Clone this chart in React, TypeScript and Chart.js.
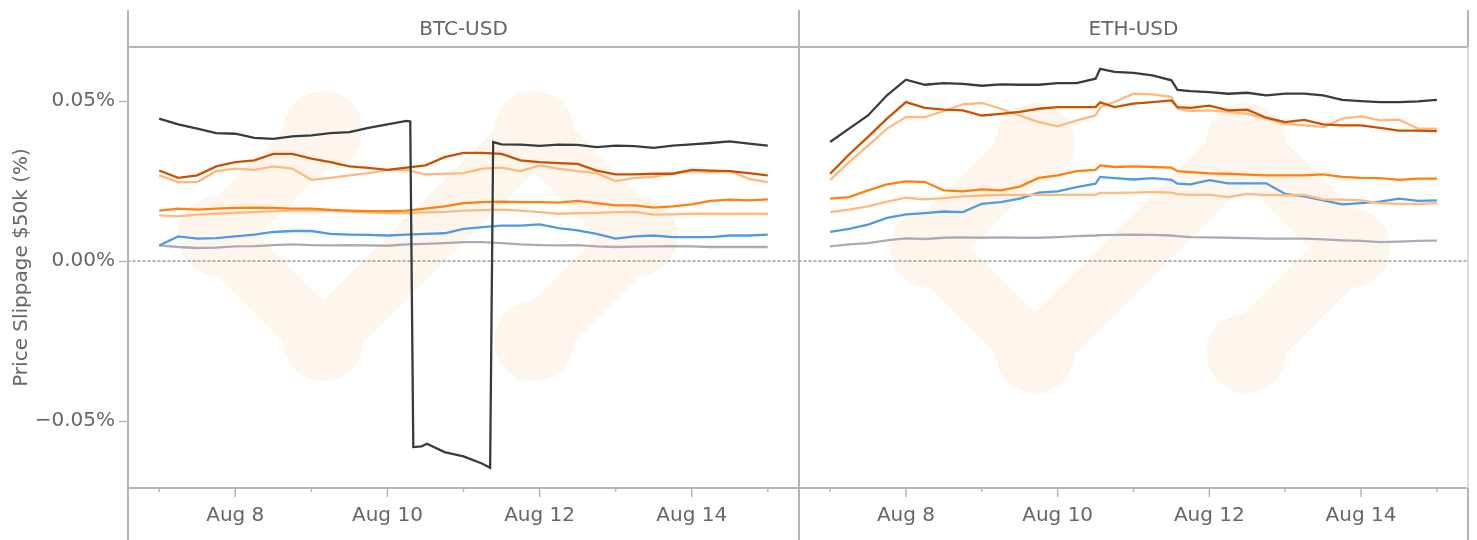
import React, { useEffect, useRef } from "react";
import { Chart, registerables } from "chart.js";

Chart.register(...registerables);

// ---------- data (values in %) ----------
const PANELS = ["BTC-USD", "ETH-USD"];
const SERIES_NAMES = ["Venue A", "Venue B", "Venue C", "Venue D", "Venue E", "Venue F", "Venue G"];

const BTC_DAYS = [7, 7.25, 7.5, 7.75, 8, 8.25, 8.5, 8.75, 9, 9.25, 9.5, 9.75, 10, 10.25, 10.5, 10.75, 11, 11.25, 11.5, 11.75, 12, 12.25, 12.5, 12.75, 13, 13.25, 13.5, 13.75, 14, 14.25, 14.5, 14.75, 15];

const BTC_DARK_DAYS = [7, 7.25, 7.5, 7.75, 8, 8.25, 8.5, 8.75, 9, 9.25, 9.5, 9.75, 10, 10.25, 10.3, 10.34, 10.45, 10.52, 10.75, 11, 11.25, 11.35, 11.39, 11.5, 11.75, 12, 12.25, 12.5, 12.75, 13, 13.25, 13.5, 13.75, 14, 14.25, 14.5, 14.75, 15];
const BTC_DARK = [0.0445, 0.0427, 0.0414, 0.04, 0.0398, 0.0385, 0.0382, 0.039, 0.0393, 0.04, 0.0403, 0.0416, 0.0427, 0.0438, 0.0436, -0.0581, -0.0579, -0.0571, -0.0597, -0.061, -0.0633, -0.0646, 0.0372, 0.0365, 0.0364, 0.036, 0.0364, 0.0363, 0.0356, 0.0361, 0.0359, 0.0354, 0.0361, 0.0365, 0.0369, 0.0374, 0.0367, 0.0361];
const BTC_RUST = [0.0283, 0.026, 0.0268, 0.0296, 0.0309, 0.0315, 0.0335, 0.0335, 0.032, 0.0309, 0.0296, 0.0291, 0.0285, 0.0292, 0.0299, 0.0325, 0.0338, 0.0338, 0.0335, 0.0315, 0.0309, 0.0306, 0.0304, 0.0283, 0.0271, 0.0271, 0.0273, 0.0273, 0.0285, 0.0283, 0.0281, 0.0275, 0.0268];
const BTC_PEACH_HI = [0.0268, 0.0247, 0.0247, 0.0281, 0.0289, 0.0285, 0.0296, 0.0289, 0.0254, 0.026, 0.0268, 0.0275, 0.0285, 0.0285, 0.0271, 0.0273, 0.0275, 0.0289, 0.0292, 0.0281, 0.0299, 0.0289, 0.0281, 0.0275, 0.025, 0.026, 0.0263, 0.0273, 0.0281, 0.0278, 0.0281, 0.0257, 0.0247];
const BTC_ORANGE = [0.0158, 0.0164, 0.0161, 0.0164, 0.0166, 0.0167, 0.0166, 0.0164, 0.0164, 0.016, 0.0158, 0.0156, 0.0156, 0.0158, 0.0164, 0.0171, 0.0181, 0.0184, 0.0186, 0.0184, 0.0184, 0.0183, 0.0188, 0.0181, 0.0174, 0.0174, 0.0167, 0.0171, 0.0177, 0.0188, 0.0192, 0.019, 0.0193];
const BTC_PEACH_LO = [0.0143, 0.014, 0.0145, 0.0148, 0.0151, 0.0153, 0.0156, 0.0158, 0.0158, 0.0158, 0.0155, 0.0152, 0.015, 0.015, 0.0152, 0.0154, 0.0158, 0.0159, 0.0161, 0.0158, 0.0153, 0.0148, 0.015, 0.0151, 0.0153, 0.0154, 0.0145, 0.0146, 0.0148, 0.0148, 0.0148, 0.0148, 0.0148];
const BTC_BLUE = [0.0049, 0.0077, 0.007, 0.0072, 0.0077, 0.0083, 0.0091, 0.0094, 0.0094, 0.0085, 0.0083, 0.0082, 0.008, 0.0083, 0.0085, 0.0087, 0.0101, 0.0106, 0.0111, 0.0111, 0.0115, 0.0103, 0.0096, 0.0085, 0.007, 0.0077, 0.008, 0.0075, 0.0075, 0.0075, 0.008, 0.008, 0.0083];
const BTC_GREY = [0.0049, 0.0044, 0.0041, 0.0042, 0.0046, 0.0047, 0.005, 0.0052, 0.005, 0.0049, 0.005, 0.0049, 0.0048, 0.0052, 0.0054, 0.0056, 0.0059, 0.0059, 0.0056, 0.0052, 0.005, 0.0049, 0.005, 0.0046, 0.0044, 0.0045, 0.0046, 0.0047, 0.0046, 0.0044, 0.0044, 0.0044, 0.0044];

const ETH_DAYS = [7, 7.25, 7.5, 7.75, 8, 8.25, 8.5, 8.75, 9, 9.25, 9.5, 9.75, 10, 10.25, 10.5, 10.56, 10.75, 11, 11.25, 11.5, 11.58, 11.75, 12, 12.25, 12.5, 12.75, 13, 13.25, 13.5, 13.75, 14, 14.25, 14.5, 14.75, 15];
const ETH_DARK = [0.0372, 0.0414, 0.0455, 0.0518, 0.0567, 0.0551, 0.0556, 0.0554, 0.0548, 0.0552, 0.0551, 0.0551, 0.0556, 0.0556, 0.057, 0.0601, 0.0591, 0.0588, 0.058, 0.0565, 0.0535, 0.0531, 0.0528, 0.0523, 0.0526, 0.0518, 0.0523, 0.0523, 0.0518, 0.0504, 0.05, 0.0497, 0.0497, 0.0499, 0.0504];
const ETH_RUST = [0.0273, 0.0333, 0.0388, 0.0445, 0.0497, 0.0479, 0.0473, 0.0471, 0.0455, 0.046, 0.0466, 0.0476, 0.0481, 0.0481, 0.0481, 0.0496, 0.0481, 0.0492, 0.0497, 0.0502, 0.0481, 0.0479, 0.0486, 0.0471, 0.0473, 0.0448, 0.0434, 0.0441, 0.0427, 0.0424, 0.0424, 0.0416, 0.0408, 0.0408, 0.0406];
const ETH_PEACH_HI = [0.0254, 0.0309, 0.0361, 0.0414, 0.045, 0.045, 0.0469, 0.049, 0.0494, 0.0476, 0.0455, 0.0434, 0.0421, 0.044, 0.0455, 0.0481, 0.0497, 0.0523, 0.0521, 0.0513, 0.0476, 0.0469, 0.0471, 0.0466, 0.046, 0.0445, 0.0429, 0.0424, 0.0419, 0.0445, 0.0452, 0.044, 0.0442, 0.0414, 0.0414];
const ETH_ORANGE = [0.0195, 0.02, 0.0221, 0.024, 0.0249, 0.0247, 0.0221, 0.0218, 0.0224, 0.0221, 0.0233, 0.026, 0.0268, 0.0281, 0.0285, 0.0299, 0.0294, 0.0296, 0.0294, 0.0292, 0.0281, 0.0278, 0.0274, 0.0273, 0.027, 0.0268, 0.0268, 0.0268, 0.0271, 0.0263, 0.026, 0.0259, 0.0254, 0.0258, 0.0258];
const ETH_PEACH_LO = [0.0153, 0.0161, 0.0171, 0.0186, 0.0198, 0.0193, 0.0197, 0.0202, 0.0205, 0.0207, 0.0207, 0.0207, 0.0207, 0.0207, 0.0207, 0.0213, 0.0213, 0.0214, 0.0216, 0.0214, 0.0209, 0.0207, 0.0207, 0.02, 0.021, 0.0206, 0.0206, 0.0207, 0.0193, 0.0192, 0.019, 0.0181, 0.0179, 0.0179, 0.0181];
const ETH_BLUE = [0.0091, 0.0101, 0.0114, 0.0135, 0.0146, 0.015, 0.0155, 0.0153, 0.0179, 0.0184, 0.0195, 0.0214, 0.0218, 0.0231, 0.0242, 0.0263, 0.0259, 0.0255, 0.0259, 0.0254, 0.0242, 0.024, 0.0253, 0.0243, 0.0243, 0.0243, 0.021, 0.0202, 0.019, 0.0177, 0.0181, 0.0186, 0.0195, 0.0188, 0.019];
const ETH_GREY = [0.0046, 0.0052, 0.0056, 0.0065, 0.0071, 0.0069, 0.0073, 0.0074, 0.0073, 0.0074, 0.0073, 0.0073, 0.0075, 0.0078, 0.008, 0.0081, 0.0082, 0.0083, 0.0082, 0.008, 0.0078, 0.0075, 0.0074, 0.0073, 0.0072, 0.007, 0.007, 0.007, 0.0068, 0.0065, 0.0063, 0.0059, 0.0061, 0.0063, 0.0064];

const Y_TICKS = [-0.05, 0, 0.05];
const X_TICK_DAYS = [7, 8, 9, 10, 11, 12, 13, 14, 15];
const Y_TITLE = "Price Slippage $50k (%)";

// ---------- style ----------
const FONT_FAMILY = '"DejaVu Sans", Verdana, sans-serif';
const FONT_SIZE = 20;
const TEXT = "#666666";
const FRAME = "#b5b5b5";
const FRAME_LIGHT = "#dcdcdc";
const WATERMARK = "#fef6ec";
const COLORS = ["#343d40", "#c85200", "#ffb97f", "#ff800e", "#ffb97f", "#4d9be3", "#a9acb8"];

const Y_MIN = -0.0709;
const Y_MAX = 0.0669;
const X_MIN = 6.59;
const X_MAX = 15.41;

// decorative watermark ("</>" blob logo) node offsets, relative to its left node
const LOGO_NODES: [number, number][] = [
  [105, -105],
  [0, 0],
  [105, 105],
  [316, -105],
  [420, 0],
  [316, 105],
];

function series(days: number[], vals: number[]) {
  return days.map((d, i) => ({ x: d, y: vals[i] }));
}

function line(ctx: CanvasRenderingContext2D, x1: number, y1: number, x2: number, y2: number, color: string, w: number) {
  ctx.save();
  ctx.strokeStyle = color;
  ctx.lineWidth = w;
  ctx.beginPath();
  ctx.moveTo(x1, y1);
  ctx.lineTo(x2, y2);
  ctx.stroke();
  ctx.restore();
}

function makePlugin(title: string, isLeft: boolean, logo: [number, number]) {
  return {
    id: "panelDecor",
    beforeDatasetsDraw(chart: any) {
      const { ctx, chartArea: a, scales } = chart;
      ctx.save();
      ctx.beginPath();
      ctx.rect(a.left, a.top, a.right - a.left, a.bottom - a.top);
      ctx.clip();
      // watermark
      const ox = a.left + logo[0];
      const oy = a.top + logo[1];
      const P = LOGO_NODES.map(([x, y]) => [ox + x, oy + y]);
      ctx.strokeStyle = WATERMARK;
      ctx.fillStyle = WATERMARK;
      ctx.lineWidth = 58;
      ctx.lineCap = "round";
      ctx.lineJoin = "round";
      ctx.beginPath();
      ctx.moveTo(P[0][0], P[0][1]);
      ctx.lineTo(P[1][0], P[1][1]);
      ctx.lineTo(P[2][0], P[2][1]);
      ctx.stroke();
      ctx.beginPath();
      ctx.moveTo(P[2][0], P[2][1]);
      ctx.lineTo(P[3][0], P[3][1]);
      ctx.stroke();
      ctx.beginPath();
      ctx.moveTo(P[3][0], P[3][1]);
      ctx.lineTo(P[4][0], P[4][1]);
      ctx.lineTo(P[5][0], P[5][1]);
      ctx.stroke();
      for (const p of P) {
        ctx.beginPath();
        ctx.arc(p[0], p[1], 40, 0, Math.PI * 2);
        ctx.fill();
      }
      // zero reference line
      const y0 = scales.y.getPixelForValue(0);
      ctx.setLineDash([2, 3]);
      ctx.strokeStyle = "#9c9c9c";
      ctx.lineWidth = 1.5;
      ctx.beginPath();
      ctx.moveTo(a.left, y0);
      ctx.lineTo(a.right, y0);
      ctx.stroke();
      ctx.restore();
    },
    afterDraw(chart: any) {
      const { ctx, chartArea: a, scales } = chart;
      const H = chart.height;
      line(ctx, a.left, a.top, a.right, a.top, FRAME, 2);
      line(ctx, a.left, a.bottom, a.right, a.bottom, FRAME, 2);
      if (isLeft) {
        line(ctx, a.left, 10, a.left, H, FRAME, 2);
        line(ctx, a.right, 10, a.right, H, FRAME, 2);
      } else {
        line(ctx, a.right, 10, a.right, a.top, FRAME, 2);
        line(ctx, a.right, a.top, a.right, a.bottom, FRAME_LIGHT, 2);
        line(ctx, a.right, a.bottom, a.right, H, FRAME, 2);
      }
      for (const d of X_TICK_DAYS) {
        const px = scales.x.getPixelForValue(d);
        const len = d % 2 === 0 ? 9 : 4;
        line(ctx, px, a.bottom, px, a.bottom + len, FRAME, 1.5);
      }
      ctx.save();
      ctx.fillStyle = TEXT;
      ctx.font = `${FONT_SIZE}px ${FONT_FAMILY}`;
      ctx.textAlign = "center";
      ctx.textBaseline = "middle";
      ctx.fillText(title, (a.left + a.right) / 2, 30);
      ctx.restore();
    },
  };
}

function makeConfig(panelIdx: number): any {
  const isLeft = panelIdx === 0;
  const valueSets = isLeft
    ? [
        series(BTC_DARK_DAYS, BTC_DARK),
        series(BTC_DAYS, BTC_RUST),
        series(BTC_DAYS, BTC_PEACH_HI),
        series(BTC_DAYS, BTC_ORANGE),
        series(BTC_DAYS, BTC_PEACH_LO),
        series(BTC_DAYS, BTC_BLUE),
        series(BTC_DAYS, BTC_GREY),
      ]
    : [
        series(ETH_DAYS, ETH_DARK),
        series(ETH_DAYS, ETH_RUST),
        series(ETH_DAYS, ETH_PEACH_HI),
        series(ETH_DAYS, ETH_ORANGE),
        series(ETH_DAYS, ETH_PEACH_LO),
        series(ETH_DAYS, ETH_BLUE),
        series(ETH_DAYS, ETH_GREY),
      ];
  const font = { family: FONT_FAMILY, size: FONT_SIZE };
  return {
    type: "line",
    data: {
      datasets: valueSets.map((data, i) => ({
        label: SERIES_NAMES[i],
        data,
        borderColor: COLORS[i],
        backgroundColor: COLORS[i],
        borderWidth: 2.3,
        pointRadius: 0,
        tension: 0,
        fill: false,
      })),
    },
    options: {
      responsive: false,
      animation: false,
      devicePixelRatio: 1,
      layout: { padding: isLeft ? { left: 0, right: 2, top: 47, bottom: 0 } : { left: 0, right: 9, top: 47, bottom: 0 } },
      plugins: { legend: { display: false }, tooltip: { enabled: false } },
      scales: {
        x: {
          type: "linear",
          min: X_MIN,
          max: X_MAX,
          afterBuildTicks: (s: any) => {
            s.ticks = X_TICK_DAYS.map((v) => ({ value: v }));
          },
          afterFit: (s: any) => {
            s.height = 52;
          },
          ticks: {
            autoSkip: false,
            maxRotation: 0,
            padding: 7,
            color: TEXT,
            font,
            callback: (v: number) => (v % 2 === 0 ? "Aug " + v : ""),
          },
          grid: { display: true, drawOnChartArea: false, drawTicks: true, tickLength: 9, color: "rgba(0,0,0,0)", tickColor: "rgba(0,0,0,0)" },
          border: { display: false },
        },
        y: {
          display: isLeft,
          min: Y_MIN,
          max: Y_MAX,
          afterBuildTicks: (s: any) => {
            s.ticks = Y_TICKS.map((v) => ({ value: v }));
          },
          afterFit: (s: any) => {
            s.width = isLeft ? 128 : 0;
          },
          ticks: {
            padding: 4,
            color: TEXT,
            font,
            callback: (v: number) => (v < 0 ? "\u2212" : "") + Math.abs(v).toFixed(2) + "%",
          },
          grid: { display: true, drawOnChartArea: false, drawTicks: true, tickLength: 9, color: "rgba(0,0,0,0)", tickColor: FRAME, tickWidth: 1.5 },
          border: { display: false },
          title: { display: true, text: Y_TITLE, color: TEXT, font, padding: { top: 10, bottom: 0 } },
        },
      },
    },
    plugins: [makePlugin(PANELS[panelIdx], isLeft, isLeft ? [90, 189] : [131, 201])],
  };
}

export default function App() {
  const leftRef = useRef<HTMLCanvasElement>(null);
  const rightRef = useRef<HTMLCanvasElement>(null);
  useEffect(() => {
    const c1 = new Chart(leftRef.current as HTMLCanvasElement, makeConfig(0));
    const c2 = new Chart(rightRef.current as HTMLCanvasElement, makeConfig(1));
    return () => {
      c1.destroy();
      c2.destroy();
    };
  }, []);
  return (
    <div style={{ position: "absolute", left: 0, top: 0, width: 1477, height: 540, background: "#ffffff", overflow: "hidden" }}>
      <canvas ref={leftRef} width={801} height={540} style={{ position: "absolute", left: 0, top: 0, width: 801, height: 540 }} />
      <canvas ref={rightRef} width={678} height={540} style={{ position: "absolute", left: 799, top: 0, width: 678, height: 540 }} />
    </div>
  );
}
